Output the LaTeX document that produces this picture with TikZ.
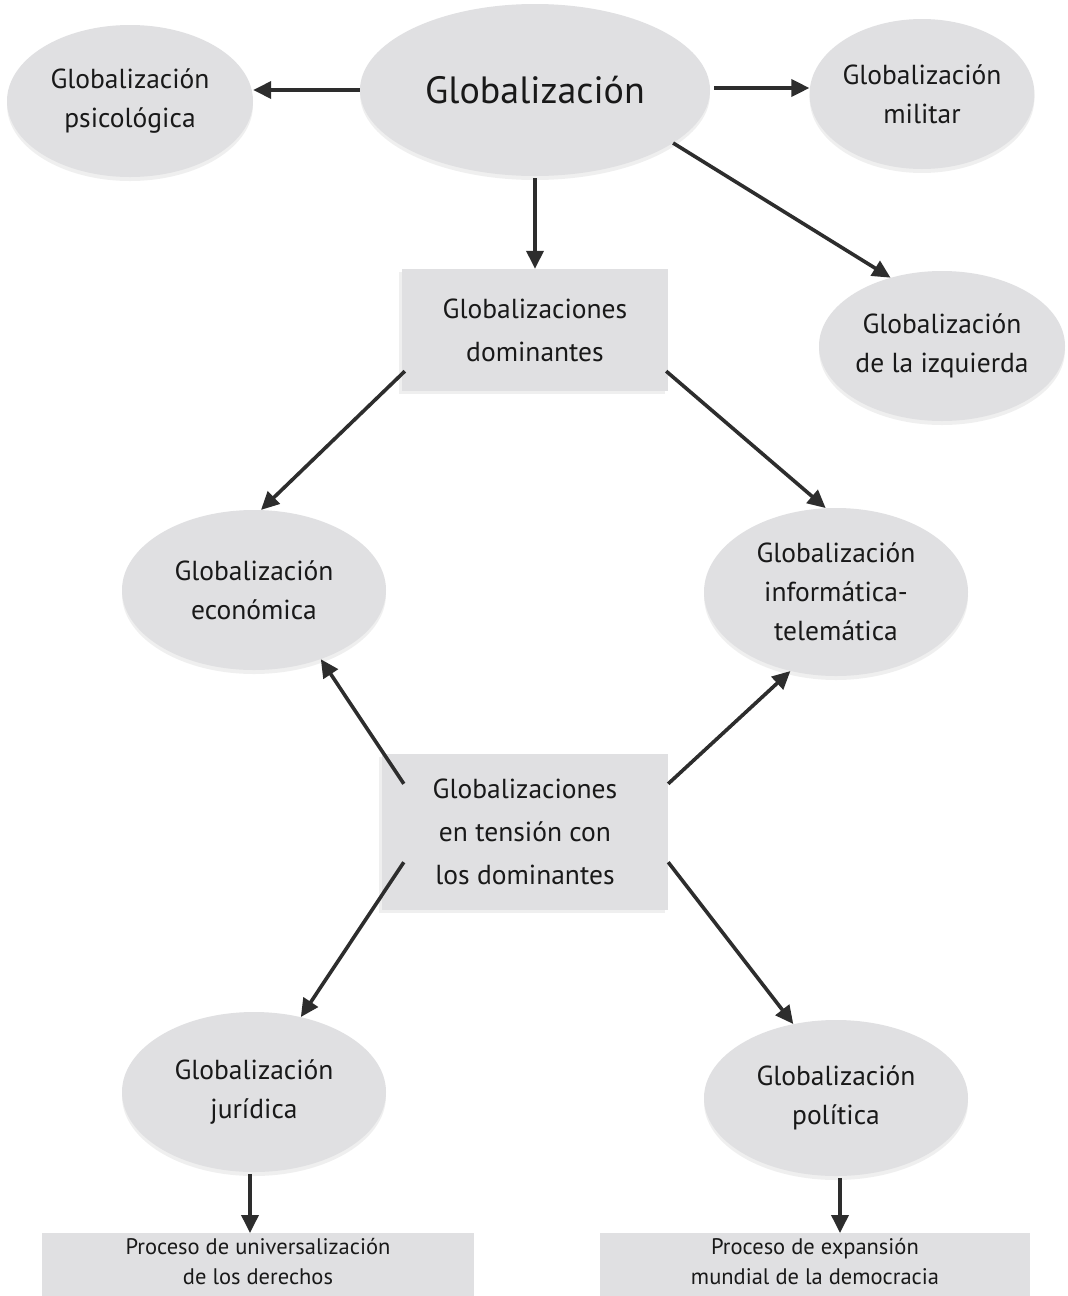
\documentclass[tikz,border=0pt]{standalone}
\usepackage{fontspec}
\setmainfont{PT Sans}
\usetikzlibrary{shadows,arrows.meta,shapes.geometric}
\definecolor{nodegray}{RGB}{224,224,226}
\definecolor{arrowgray}{RGB}{45,45,45}
\definecolor{textgray}{RGB}{25,25,25}
\tikzset{
  x=1pt,y=-1pt,
  ell/.style={ellipse, fill=nodegray, inner sep=0pt, align=center, text=textgray,
     font=\fontsize{27.5}{39}\selectfont,
     drop shadow={opacity=0.12, shadow xshift=0pt, shadow yshift=-4pt}},
  rbox/.style={rectangle, fill=nodegray, inner sep=0pt, align=center, text=textgray,
     font=\fontsize{27.5}{43}\selectfont,
     drop shadow={opacity=0.12, shadow xshift=-3pt, shadow yshift=-3pt}},
  pbox/.style={rectangle, fill=nodegray, inner sep=0pt},
  ptext/.style={font=\fontsize{22.5}{30}\selectfont, align=center, text=textgray},
  conn/.style={draw=arrowgray, line width=3.6pt, -{Triangle[length=18pt,width=17pt]}},
}
\begin{document}
\begin{tikzpicture}
\useasboundingbox[fill=white] (0,0) rectangle (1068,1296);
% ellipses
\node[ell, minimum width=350pt, minimum height=172pt, font=\fontsize{38}{42}\selectfont] (glob) at (535,90) {Globalización};
\node[ell, minimum width=246pt, minimum height=152pt] (psi) at (130,101) {Globalización\\psicológica};
\node[ell, minimum width=220pt, minimum height=150pt] (mil) at (922,94) {Globalización\\militar};
\node[ell, minimum width=246pt, minimum height=150pt] (izq) at (942,346) {Globalización\\de la izquierda};
\node[ell, minimum width=264pt, minimum height=160pt] (eco) at (254,590) {Globalización\\económica};
\node[ell, minimum width=264pt, minimum height=168pt] (inf) at (836,592) {Globalización\\informática-\\telemática};
\node[ell, minimum width=264pt, minimum height=160pt] (jur) at (254,1092) {Globalización\\jurídica};
\node[ell, minimum width=264pt, minimum height=156pt] (pol) at (836,1098) {Globalización\\política};
% boxes
\node[rbox, minimum width=266pt, minimum height=122pt] (dom) at (535,330) {Globalizaciones\\dominantes};
\node[rbox, minimum width=286pt, minimum height=156pt] (ten) at (525,832) {Globalizaciones\\en tensión con\\los dominantes};
\node[pbox, minimum width=432pt, minimum height=90pt, anchor=north] (p1) at (258,1233) {};
\node[pbox, minimum width=430pt, minimum height=90pt, anchor=north] (p2) at (815,1233) {};
\node[ptext] (p1t) at (258,1262) {Proceso de universalización\\de los derechos};
\node[ptext] (p2t) at (815,1262) {Proceso de expansión\\mundial de la democracia};
% connectors
\draw[conn] (glob.west |- 0,90) -- (psi.east |- 0,90);
\draw[conn] (glob.east |- 0,88) ++(4,0) -- (mil.west |- 0,88);
\draw[conn] (glob.south) ++(0,2) -- (dom.north);
\draw[conn] (glob.-21) -- (izq.127);
\draw[conn] (dom.south west) ++(3,-20) -- (eco.85);
\draw[conn] (dom.south east) ++(-2,-20) -- (inf.97);
\draw[conn] (ten.north west) ++(22,30) -- (eco.-46);
\draw[conn] (ten.north east) ++(0,30) -- (inf.-120);
\draw[conn] (ten.south west) ++(22,-48) -- (jur.58);
\draw[conn] (ten.south east) ++(0,-48) -- (pol.120);
\draw[conn] (jur.south) ++(-4,2) -- (p1.north -| 250,0);
\draw[conn] (pol.south) ++(4,2) -- (p2.north -| 840,0);
\end{tikzpicture}
\end{document}
